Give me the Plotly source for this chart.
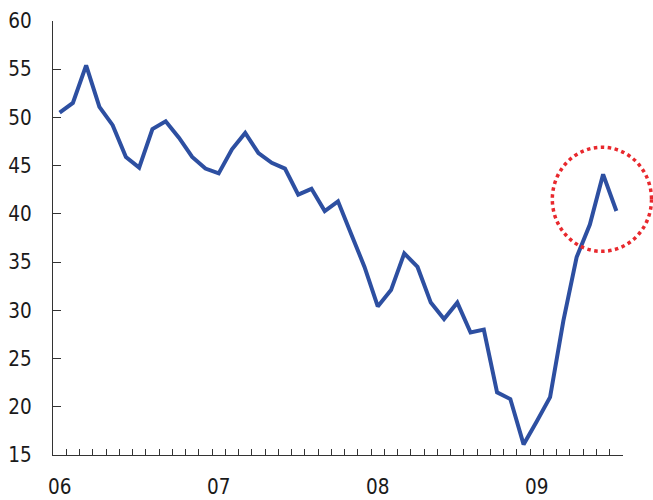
import plotly.graph_objects as go

# Monthly index values, Jan 2006 - Jul 2009
months = list(range(43))
values = [
    50.5, 51.5, 55.4, 51.1, 49.2, 45.9, 44.8, 48.8, 49.6, 47.9, 45.9, 44.7,
    44.2, 46.7, 48.4, 46.3, 45.3, 44.7, 42.0, 42.6, 40.3, 41.3, 37.9, 34.5,
    30.4, 32.1, 35.9, 34.5, 30.8, 29.1, 30.8, 27.7, 28.0, 21.5, 20.8, 16.1,
    18.5, 21.0, 28.9, 35.5, 38.9, 44.1, 40.3,
]
year_ticks = [0, 12, 24, 36]
year_labels = ["06", "07", "08", "09"]
y_ticks = [15, 20, 25, 30, 35, 40, 45, 50, 55, 60]

font_family = "DejaVu Sans Condensed, Roboto, sans-serif"

fig = go.Figure()
fig.add_trace(go.Scatter(
    x=months, y=values, mode="lines",
    line=dict(color="#2d4fa1", width=4),
    hoverinfo="skip", showlegend=False,
))

# dotted highlight ring around the latest readings (paper coords so it is not clipped)
fig.add_shape(
    type="circle", xref="paper", yref="paper",
    x0=0.876, x1=1.05, y0=0.4693, y1=0.7092,
    line=dict(color="#e8282d", width=3.5, dash="dot"),
)

fig.update_layout(
    width=653, height=500,
    margin=dict(l=53, r=30, t=21, b=45),
    paper_bgcolor="white", plot_bgcolor="white",
    font=dict(family=font_family, size=20.5, color="#1a1a1a"),
)
fig.update_xaxes(
    range=[-0.5, 42.5], automargin=False,
    tickmode="array", tickvals=year_ticks, ticktext=year_labels,
    ticks="inside", ticklen=0, tickcolor="rgba(0,0,0,0)",
    minor=dict(tick0=-0.5, dtick=1, ticks="inside", ticklen=6,
               tickcolor="#333", tickwidth=1, showgrid=False),
    showline=True, linecolor="#333", linewidth=1.2,
    showgrid=False, zeroline=False,
    ticklabelstandoff=13,
)
fig.update_yaxes(
    range=[15, 60], automargin=False,
    tickmode="array", tickvals=y_ticks,
    ticks="inside", ticklen=8, tickcolor="#333", tickwidth=1,
    showline=True, linecolor="#333", linewidth=1.2,
    showgrid=False, zeroline=False,
    ticklabelstandoff=16,
)

fig.write_html("out.html")
